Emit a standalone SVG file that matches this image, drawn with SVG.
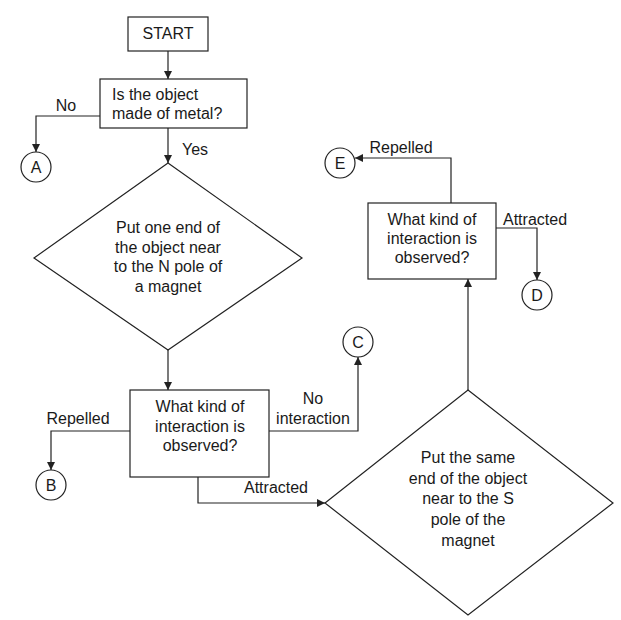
<svg xmlns="http://www.w3.org/2000/svg" width="621" height="620" viewBox="0 0 621 620">
<defs>
<style>
.shape{fill:#fff;stroke:#222;stroke-width:1.2}
.conn{fill:none;stroke:#222;stroke-width:1.2}
text{font-family:"Liberation Sans",Arial,sans-serif;font-size:16px;fill:#1a1a1a}
.c{text-anchor:middle}
</style>
<marker id="arr" viewBox="0 0 10 10" refX="10" refY="5" markerWidth="8" markerHeight="8" markerUnits="userSpaceOnUse" orient="auto">
<path d="M0,0 L10,5 L0,10 z" fill="#222"/>
</marker>
</defs>
<rect width="621" height="620" fill="#fff"/>
<g id="connectors">
<path class="conn" d="M168,51 V79" marker-end="url(#arr)"/>
<path class="conn" d="M100,116 H36 V152" marker-end="url(#arr)"/>
<path class="conn" d="M168,128 V163" marker-end="url(#arr)"/>
<path class="conn" d="M168,350 V390" marker-end="url(#arr)"/>
<path class="conn" d="M130,431 H51 V470" marker-end="url(#arr)"/>
<path class="conn" d="M269,431 H358 V357" marker-end="url(#arr)"/>
<path class="conn" d="M198,477 V503 H325" marker-end="url(#arr)"/>
<path class="conn" d="M468,390 V279" marker-end="url(#arr)"/>
<path class="conn" d="M451,203 V158 H355" marker-end="url(#arr)"/>
<path class="conn" d="M496,228 H537 V280" marker-end="url(#arr)"/>
<text class="c" x="66" y="111">No</text>
<text x="182" y="155">Yes</text>
<text class="c" x="78" y="424">Repelled</text>
<text class="c" x="313" y="404">No</text>
<text class="c" x="313" y="424">interaction</text>
<text class="c" x="276" y="493">Attracted</text>
<text class="c" x="401" y="153">Repelled</text>
<text x="503" y="225">Attracted</text>
</g>
<g id="start">
<rect class="shape" x="128" y="17" width="80" height="34"/>
<text class="c" x="168" y="39">START</text>
</g>
<g id="metal">
<rect class="shape" x="100" y="79" width="147" height="49"/>
<text x="112" y="100">Is the object</text>
<text x="112" y="119">made of metal?</text>
</g>
<g id="A">
<circle class="shape" cx="36" cy="167" r="15"/>
<text class="c" x="36" y="173">A</text>
</g>
<g id="npole">
<polygon class="shape" points="168,163 302,258 168,350 34,258"/>
<text class="c" x="168" y="233">Put one end of</text>
<text class="c" x="168" y="253">the object near</text>
<text class="c" x="168" y="272">to the N pole of</text>
<text class="c" x="168" y="292">a magnet</text>
</g>
<g id="interaction1">
<rect class="shape" x="130" y="390" width="139" height="87"/>
<text class="c" x="200" y="412">What kind of</text>
<text class="c" x="200" y="432">interaction is</text>
<text class="c" x="200" y="451">observed?</text>
</g>
<g id="B">
<circle class="shape" cx="51" cy="485" r="15"/>
<text class="c" x="51" y="491">B</text>
</g>
<g id="C">
<circle class="shape" cx="358" cy="342" r="15"/>
<text class="c" x="358" y="348">C</text>
</g>
<g id="spole">
<polygon class="shape" points="468,390 613,503 468,615 325,503"/>
<text class="c" x="468" y="463">Put the same</text>
<text class="c" x="468" y="484">end of the object</text>
<text class="c" x="468" y="504">near to the S</text>
<text class="c" x="468" y="525">pole of the</text>
<text class="c" x="468" y="546">magnet</text>
</g>
<g id="interaction2">
<rect class="shape" x="368" y="203" width="128" height="76"/>
<text class="c" x="432" y="225">What kind of</text>
<text class="c" x="432" y="244">interaction is</text>
<text class="c" x="432" y="263">observed?</text>
</g>
<g id="E">
<circle class="shape" cx="340" cy="163" r="15"/>
<text class="c" x="340" y="169">E</text>
</g>
<g id="D">
<circle class="shape" cx="537" cy="295" r="15"/>
<text class="c" x="537" y="301">D</text>
</g>
</svg>
